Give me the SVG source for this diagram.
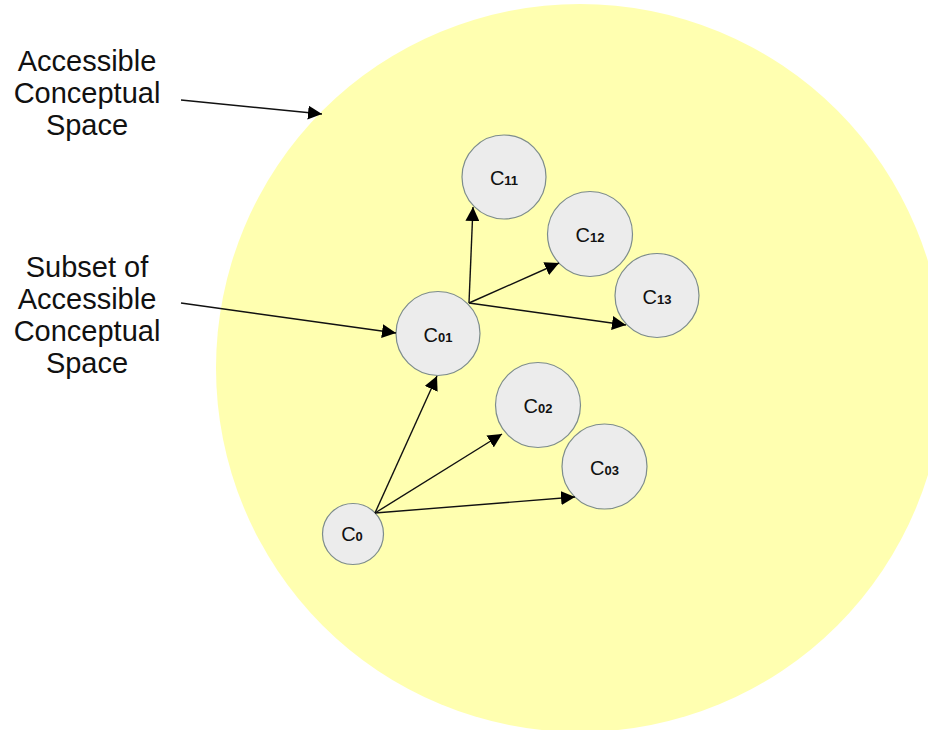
<svg xmlns="http://www.w3.org/2000/svg" width="928" height="730" viewBox="0 0 928 730">
<style>
.lbl{font-family:"Liberation Sans",Arial,sans-serif;font-size:29px;fill:#111;text-anchor:middle}
.node circle{fill:#ececec;stroke:#7d8c8c;stroke-width:1.2}
.nt{font-family:"Liberation Sans",Arial,sans-serif;font-size:20px;fill:#111;text-anchor:middle}
.sub{font-size:13px;font-weight:bold}
.conn line{stroke:#111;stroke-width:1.4;marker-end:url(#ah)}
</style>
<defs>
<marker id="ah" viewBox="0 0 10 10" refX="10" refY="5" markerWidth="14" markerHeight="14" markerUnits="userSpaceOnUse" orient="auto">
<path d="M0,0 L10,5 L0,10 z" fill="#000"/>
</marker>
</defs>
<rect width="928" height="730" fill="#fff"/>
<g id="space"><circle cx="580" cy="368" r="364" fill="#ffffb0"/></g>
<g id="label-space"><text class="lbl"><tspan x="87" y="71">Accessible</tspan><tspan x="87" y="103">Conceptual</tspan><tspan x="87" y="135">Space</tspan></text></g>
<g id="label-subset"><text class="lbl"><tspan x="87" y="277">Subset of</tspan><tspan x="87" y="309">Accessible</tspan><tspan x="87" y="341">Conceptual</tspan><tspan x="87" y="373">Space</tspan></text></g>
<g id="C11" class="node"><circle cx="504" cy="177" r="42"/><text class="nt" x="504" y="185">C<tspan class="sub">11</tspan></text></g>
<g id="C12" class="node"><circle cx="590" cy="234" r="42.5"/><text class="nt" x="590" y="242">C<tspan class="sub">12</tspan></text></g>
<g id="C13" class="node"><circle cx="657" cy="295.5" r="42"/><text class="nt" x="657" y="304">C<tspan class="sub">13</tspan></text></g>
<g id="C01" class="node"><circle cx="438" cy="333.5" r="42"/><text class="nt" x="438" y="342">C<tspan class="sub">01</tspan></text></g>
<g id="C02" class="node"><circle cx="538" cy="405" r="42.5"/><text class="nt" x="538" y="413">C<tspan class="sub">02</tspan></text></g>
<g id="C03" class="node"><circle cx="604.5" cy="466.5" r="42.5"/><text class="nt" x="604.5" y="475">C<tspan class="sub">03</tspan></text></g>
<g id="C0" class="node"><circle cx="353" cy="534" r="30.5"/><text class="nt" x="352" y="541">C<tspan class="sub">0</tspan></text></g>
<g id="connectors" class="conn">
<line x1="181" y1="100" x2="322" y2="114"/>
<line x1="181" y1="303" x2="396" y2="333"/>
<line x1="375" y1="513" x2="437" y2="376"/>
<line x1="375" y1="513" x2="502" y2="434"/>
<line x1="375" y1="513" x2="575" y2="497"/>
<line x1="469" y1="303" x2="473" y2="207"/>
<line x1="469" y1="303" x2="559" y2="263"/>
<line x1="469" y1="303" x2="626" y2="325"/>
</g>
</svg>
